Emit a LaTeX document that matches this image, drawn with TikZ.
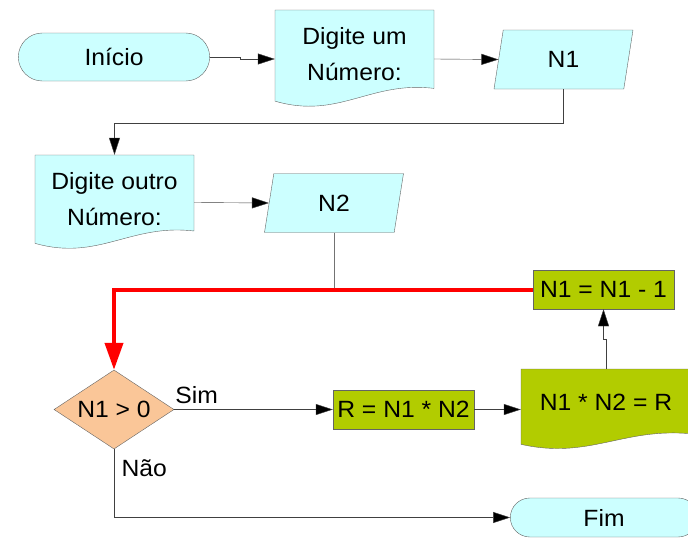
\documentclass[tikz,border=0pt]{standalone}
\usepackage{fontspec}
\setmainfont{Liberation Sans}[FakeStretch=1.05]
\usetikzlibrary{shapes.geometric,shapes.misc,arrows.meta,calc}
\definecolor{lblue}{RGB}{204,255,255}
\definecolor{lgreen}{RGB}{178,204,0}
\definecolor{peach}{RGB}{250,198,152}
\definecolor{edge}{RGB}{100,100,100}
\tikzstyle{arrow} = [draw=black!75, -{Triangle[length=17pt,width=11pt,fill=black]}]
\tikzstyle{line} = [draw=black!55]
\tikzstyle{startstop} = [rounded rectangle, draw=edge, fill=lblue]
\tikzstyle{io} = [trapezium, trapezium left angle=68, trapezium right angle=112, trapezium stretches body, draw=edge, fill=lblue, minimum width=139pt, minimum height=59pt]
\tikzstyle{process} = [rectangle, draw=edge, fill=lgreen, minimum width=141pt, minimum height=39pt]
\tikzstyle{decision} = [diamond, draw=edge, fill=peach, minimum width=120pt, minimum height=79pt, aspect=1.5, inner sep=0pt]
\tikzstyle{doc} = [rectangle, align=center]
% document symbol: x0, y0, width, height, fill
\newcommand{\docshape}[5]{%
  \pgfmathsetmacro\dsxb{#1+#3}
  \pgfmathsetmacro\dsyr{#2+0.8*#4}
  \pgfmathsetmacro\dsyl{#2+0.93*#4}
  \pgfmathsetmacro\dscxa{#1+0.6*#3}
  \pgfmathsetmacro\dscya{#2+0.72*#4}
  \pgfmathsetmacro\dscxb{#1+0.4*#3}
  \pgfmathsetmacro\dscyb{#2+1.12*#4}
  \draw[draw=edge, fill=#5] (#1,#2) -- (\dsxb,#2) -- (\dsxb,\dsyr)
    .. controls (\dscxa,\dscya) and (\dscxb,\dscyb) .. (#1,\dsyl) -- cycle;}

\begin{document}
\begin{tikzpicture}[x=1pt,y=-1pt,font=\fontsize{23.5}{36}\selectfont]
\useasboundingbox (0,0) rectangle (688,538);
\clip (0,0) rectangle (688,538);

% shapes
\node[startstop, minimum width=198pt, minimum height=48pt] (ini) at (114,57) {Início};
\docshape{275}{10}{159}{98}{lblue}
\node[doc, minimum width=159pt, minimum height=98pt,
  label={[align=center, yshift=5pt]center:{Digite um\\Número:}}] (num1) at (354.5,59) {};
\node[io] (n1) at (563.5,59.5) {N1};
\docshape{35}{155}{159}{95}{lblue}
\node[doc, minimum width=159pt, minimum height=95pt,
  label={[align=center, yshift=3pt]center:{Digite outro\\Número:}}] (num2) at (114.5,202.5) {};
\node[io] (n2) at (334,203) {N2};
\node[process] (dec1) at (603.5,289.5) {N1 = N1 - 1};
\node[decision] (test) at (114,409.5) {N1 > 0};
\node[process] (mult) at (403.5,409.5) {R = N1 * N2};
\docshape{521}{369}{170}{81}{lgreen}
\node[doc, minimum width=170pt, minimum height=81pt,
  label={[yshift=7pt]center:N1 * N2 = R}] (res) at (606,409.5) {};
\node[startstop, minimum width=194pt, minimum height=39pt] (fim) at (604,517.5) {Fim};

% connectors
\draw[arrow] (ini.east) -- ++(30,0) |- (num1.west);
\draw[arrow] (num1.east) -- (n1.west);
\draw[arrow] (n1.south) -- ++(0,34) -| (num2.north);
\draw[arrow] (num2.east) -- (n2.west);
\draw[line] (n2.south) -- (n2.south |- dec1.west);
\draw[red, line width=4pt, -{Triangle[length=27pt,width=18pt]}] (dec1.west) -| (test.north);
\draw[arrow] (test.east) -- (mult.west)
  node[pos=0, anchor=south west, inner sep=1pt, yshift=5pt] {Sim};
\draw[arrow] (mult.east) -- (res.west);
\draw[arrow] (res.north) -- ++(0,-30) -| (dec1.south);
\draw[arrow] (test.south) |- (fim.west)
  node[pos=0.14, right, xshift=4pt] {Não};
\end{tikzpicture}
\end{document}
